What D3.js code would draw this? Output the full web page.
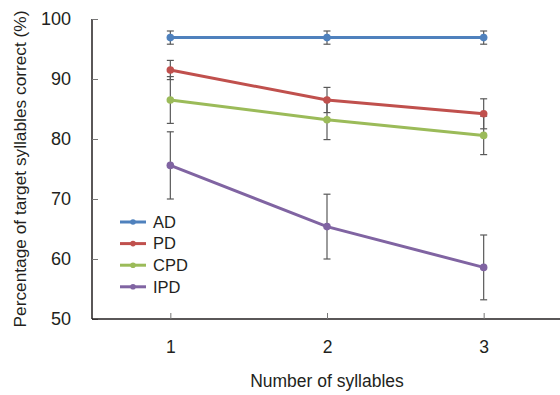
<!DOCTYPE html>
<html>
<head>
<meta charset="utf-8">
<script src="https://cdn.jsdelivr.net/npm/d3@7"></script>
<style>
  body { margin: 0; background: #fff; }
  text { font-family: "Liberation Sans", Arial, sans-serif; fill: #231f20; }
</style>
</head>
<body>
<div id="chart"></div>
<script>
// data
var syllables = [1, 2, 3];
var groups = ["AD", "PD", "CPD", "IPD"];
var colors = ["#4f81bd", "#c0504d", "#9bbb59", "#8064a2"];

var adMean = [96.9, 96.9, 96.9];
var adErr = [1.1, 1.1, 1.1];
var pdMean = [91.5, 86.5, 84.2];
var pdErr = [1.6, 2.1, 2.5];
var cpdMean = [86.5, 83.2, 80.6];
var cpdErr = [3.9, 3.3, 3.2];
var ipdMean = [75.6, 65.4, 58.6];
var ipdErr = [5.6, 5.4, 5.4];

var yTicks = [50, 60, 70, 80, 90, 100];

var means = [adMean, pdMean, cpdMean, ipdMean];
var errs = [adErr, pdErr, cpdErr, ipdErr];

var width = 560, height = 395;
var margin = {top: 19, right: 0, bottom: 76, left: 92};

var svg = d3.select("#chart")
	.append("svg")
	.attr("width", width)
	.attr("height", height);

var x = d3.scaleLinear()
	.domain([0.5, 3.5])
	.range([margin.left, width + 2]);

var y = d3.scaleLinear()
	.domain([50, 100])
	.range([height - margin.bottom, margin.top]);

// axes
var yAxis = svg.append("g")
	.attr("transform", "translate(" + margin.left + ",0)")
	.call(d3.axisLeft(y).tickValues(yTicks).tickSize(-6).tickPadding(21).tickFormat(d3.format("d")));
yAxis.select(".domain").attr("stroke", "#231f20").attr("stroke-width", 1.5).attr("d", "M0," + y(100) + "V" + y(50));
yAxis.selectAll(".tick line").attr("stroke", "#777");
yAxis.selectAll(".tick text").attr("font-size", 18).style("fill", "#231f20");

var xAxis = svg.append("g")
	.attr("transform", "translate(0," + y(50) + ")")
	.call(d3.axisBottom(x).tickValues(syllables).tickSize(-6).tickPadding(22).tickFormat(d3.format("d")));
xAxis.select(".domain").attr("stroke", "#231f20").attr("stroke-width", 1.5).attr("d", "M" + margin.left + ",0H" + width);
xAxis.selectAll(".tick line").attr("stroke", "#777");
xAxis.selectAll(".tick text").attr("font-size", 17.5).style("fill", "#231f20");

// axis titles
svg.append("text")
	.attr("x", x(2))
	.attr("y", 387)
	.attr("text-anchor", "middle")
	.attr("font-size", 17.5)
	.text("Number of syllables");

svg.append("text")
	.attr("transform", "translate(26," + ((y(50) + y(100)) / 2) + ") rotate(-90)")
	.attr("text-anchor", "middle")
	.attr("font-size", 17.3)
	.text("Percentage of target syllables correct (%)");

// error bars
groups.forEach(function (g, gi) {
	var eb = svg.append("g").attr("stroke", "#595959").attr("stroke-width", 1.2);
	syllables.forEach(function (s, i) {
		var m = means[gi][i], e = errs[gi][i];
		eb.append("line").attr("x1", x(s)).attr("x2", x(s)).attr("y1", y(m + e)).attr("y2", y(m - e));
		eb.append("line").attr("x1", x(s) - 3.5).attr("x2", x(s) + 3.5).attr("y1", y(m + e)).attr("y2", y(m + e));
		eb.append("line").attr("x1", x(s) - 3.5).attr("x2", x(s) + 3.5).attr("y1", y(m - e)).attr("y2", y(m - e));
	});
});

// lines + markers
var line = d3.line()
	.x(function (d, i) { return x(syllables[i]); })
	.y(function (d) { return y(d); });

groups.forEach(function (g, gi) {
	svg.append("path")
		.datum(means[gi])
		.attr("fill", "none")
		.attr("stroke", colors[gi])
		.attr("stroke-width", 3)
		.attr("d", line);
	svg.selectAll(".pt" + gi)
		.data(means[gi])
		.enter()
		.append("circle")
		.attr("cx", function (d, i) { return x(syllables[i]); })
		.attr("cy", function (d) { return y(d); })
		.attr("r", 3.8)
		.attr("fill", colors[gi]);
});

// legend
var legend = svg.append("g");
groups.forEach(function (g, gi) {
	var ly = 222 + gi * 21.6;
	legend.append("line")
		.attr("x1", 120).attr("x2", 146)
		.attr("y1", ly).attr("y2", ly)
		.attr("stroke", colors[gi]).attr("stroke-width", 3);
	legend.append("circle")
		.attr("cx", 133).attr("cy", ly).attr("r", 2.8)
		.attr("fill", colors[gi]);
	legend.append("text")
		.attr("x", 153).attr("y", ly)
		.attr("dy", "0.35em")
		.attr("font-size", 16.5)
		.text(g);
});
</script>
</body>
</html>
